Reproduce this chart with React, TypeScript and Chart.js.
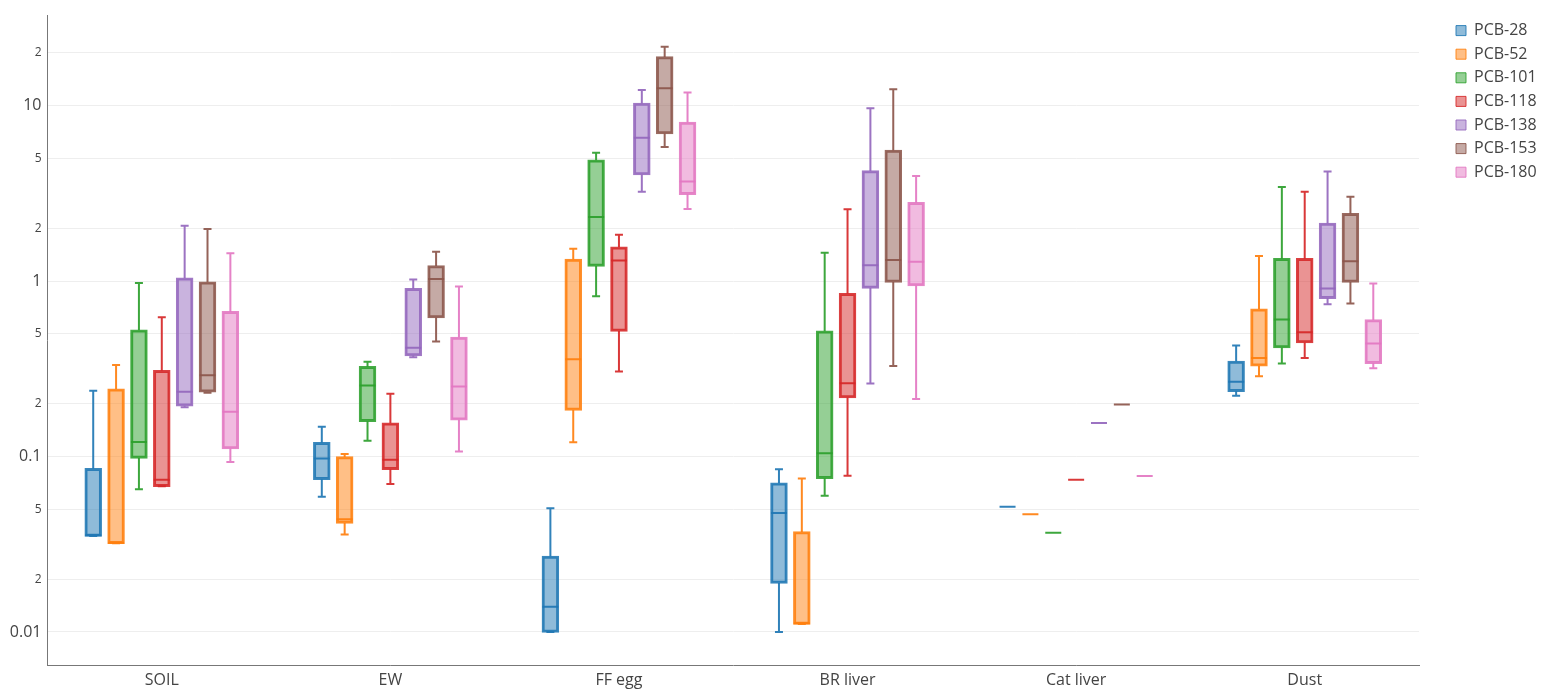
import React, { useEffect, useRef } from 'react';
import { Chart, registerables } from 'chart.js';

Chart.register(...registerables);

const FONT = "'Open Sans', 'DejaVu Sans', sans-serif";

const CATEGORIES = ['SOIL', 'EW', 'FF egg', 'BR liver', 'Cat liver', 'Dust'];
const SERIES_NAMES = ['PCB-28', 'PCB-52', 'PCB-101', 'PCB-118', 'PCB-138', 'PCB-153', 'PCB-180'];
const COLORS = ['#1f77b4', '#ff7f0e', '#2ca02c', '#d62728', '#9467bd', '#8c564b', '#e377c2'];

// each entry: [min, q1, median, q3, max] for SOIL, EW, FF egg, BR liver, Cat liver, Dust
const PCB_28 = [
  [0.0352, 0.0352, 0.0356, 0.0853, 0.237],
  [0.0589, 0.0742, 0.0973, 0.12, 0.148],
  [0.01, 0.01, 0.0139, 0.0269, 0.0507],
  [0.01, 0.019, 0.0477, 0.0705, 0.0847],
  [0.0518, 0.0518, 0.0518, 0.0518, 0.0518],
  [0.222, 0.236, 0.267, 0.348, 0.429],
];
const PCB_52 = [
  [0.032, 0.032, 0.0323, 0.242, 0.333],
  [0.0359, 0.0418, 0.0439, 0.0995, 0.1035],
  [0.1206, 0.184, 0.359, 1.33, 1.53],
  [0.0111, 0.0111, 0.0112, 0.0371, 0.075],
  [0.0469, 0.0469, 0.0469, 0.0469, 0.0469],
  [0.287, 0.329, 0.364, 0.692, 1.39],
];
const PCB_101 = [
  [0.065, 0.098, 0.121, 0.525, 0.975],
  [0.123, 0.159, 0.254, 0.325, 0.347],
  [0.82, 1.22, 2.32, 4.88, 5.39],
  [0.0598, 0.0753, 0.1045, 0.518, 1.45],
  [0.0368, 0.0368, 0.0368, 0.0368, 0.0368],
  [0.339, 0.419, 0.604, 1.34, 3.44],
];
const PCB_118 = [
  [0.0677, 0.0677, 0.0738, 0.308, 0.623],
  [0.0698, 0.0846, 0.096, 0.155, 0.228],
  [0.305, 0.52, 1.31, 1.56, 1.84],
  [0.0778, 0.217, 0.262, 0.848, 2.57],
  [0.0738, 0.0738, 0.0738, 0.0738, 0.0738],
  [0.365, 0.447, 0.512, 1.34, 3.23],
];
const PCB_138 = [
  [0.191, 0.195, 0.234, 1.04, 2.07],
  [0.368, 0.377, 0.417, 0.904, 1.02],
  [3.23, 4.06, 6.57, 10.3, 12.3],
  [0.261, 0.914, 1.23, 4.24, 9.66],
  [0.1555, 0.1555, 0.1555, 0.1555, 0.1555],
  [0.739, 0.8, 0.908, 2.13, 4.22],
];
const PCB_153 = [
  [0.231, 0.234, 0.291, 0.987, 1.98],
  [0.452, 0.62, 1.03, 1.22, 1.47],
  [5.81, 6.95, 12.56, 18.97, 21.7],
  [0.328, 0.989, 1.32, 5.56, 12.4],
  [0.198, 0.198, 0.198, 0.198, 0.198],
  [0.745, 0.99, 1.3, 2.42, 3.03],
];
const PCB_180 = [
  [0.093, 0.111, 0.18, 0.668, 1.44],
  [0.1067, 0.162, 0.251, 0.477, 0.931],
  [2.58, 3.13, 3.7, 8.03, 11.9],
  [0.213, 0.944, 1.29, 2.8, 3.97],
  [0.0775, 0.0775, 0.0775, 0.0775, 0.0775],
  [0.319, 0.34, 0.441, 0.6, 0.969],
];

const SERIES = [PCB_28, PCB_52, PCB_101, PCB_118, PCB_138, PCB_153, PCB_180];

const Y_TICKS = [0.01, 0.02, 0.05, 0.1, 0.2, 0.5, 1, 2, 5, 10, 20];
const Y_MIN = 0.00648;
const Y_MAX = 32.9;

const isMajor = (v: number) => {
  const l = Math.log10(v);
  return Math.abs(l - Math.round(l)) < 1e-9;
};
const tickLabel = (v: number) => {
  if (isMajor(v)) return String(v);
  return String(Math.round(v / Math.pow(10, Math.floor(Math.log10(v) + 1e-9))));
};

const rgba = (hex: string, a: number) => {
  const n = parseInt(hex.slice(1), 16);
  return `rgba(${(n >> 16) & 255}, ${(n >> 8) & 255}, ${n & 255}, ${a})`;
};

const boxWhiskerPlugin = {
  id: 'boxWhiskers',
  afterDatasetsDraw(chart: any) {
    const ctx = chart.ctx;
    const yScale = chart.scales.y;
    const p = (v: number) => yScale.getPixelForValue(v);
    chart.data.datasets.forEach((ds: any, i: number) => {
      const meta = chart.getDatasetMeta(i);
      if (!chart.isDatasetVisible(i)) return;
      meta.data.forEach((el: any, j: number) => {
        const s = ds.stats[j];
        if (!s) return;
        const { x, width } = el.getProps(['x', 'width'], true);
        const [mn, q1, md, q3, mx] = s;
        const half = width / 2;
        const cap = width / 4;
        ctx.save();
        ctx.strokeStyle = ds.lineColor;
        ctx.lineWidth = 2;
        ctx.beginPath();
        ctx.moveTo(x - half, p(md));
        ctx.lineTo(x + half, p(md));
        ctx.moveTo(x, p(q3));
        ctx.lineTo(x, p(mx));
        ctx.moveTo(x - cap, p(mx));
        ctx.lineTo(x + cap, p(mx));
        ctx.moveTo(x, p(q1));
        ctx.lineTo(x, p(mn));
        ctx.moveTo(x - cap, p(mn));
        ctx.lineTo(x + cap, p(mn));
        ctx.stroke();
        ctx.restore();
      });
    });
  },
};

const LEGEND_BOX_X = 1456;
const LEGEND_PADDING = 7.6;

const legendPlacePlugin = {
  id: 'legendPlace',
  afterLayout(chart: any) {
    const lg = chart.legend;
    if (!lg) return;
    const w = lg.width;
    lg.left = LEGEND_BOX_X - LEGEND_PADDING;
    lg.right = lg.left + w;
  },
};

export default function App() {
  const canvasRef = useRef<HTMLCanvasElement | null>(null);

  useEffect(() => {
    if (!canvasRef.current) return;
    const chart = new Chart(canvasRef.current, {
      type: 'bar',
      data: {
        labels: CATEGORIES,
        datasets: SERIES.map((s, i) => ({
          label: SERIES_NAMES[i],
          data: s.map((b) => [b[1], b[3]]),
          stats: s,
          lineColor: rgba(COLORS[i], 0.92),
          backgroundColor: rgba(COLORS[i], 0.5),
          borderColor: rgba(COLORS[i], 0.88),
          borderWidth: 1.5,
          borderSkipped: false,
          inflateAmount: 0.75,
          categoryPercentage: 0.7,
          barPercentage: 0.7,
        })) as any,
      },
      options: {
        responsive: true,
        maintainAspectRatio: false,
        animation: false,
        layout: { padding: { top: 15, right: 33, bottom: 0, left: 0 } },
        plugins: {
          tooltip: { enabled: false },
          legend: {
            position: 'right',
            align: 'start',
            maxWidth: 90,
            labels: {
              boxWidth: 10,
              boxHeight: 10,
              padding: LEGEND_PADDING,
              color: '#444',
              font: { family: FONT, size: 16 },
              generateLabels: (chart: any) =>
                Chart.defaults.plugins.legend.labels
                  .generateLabels(chart)
                  .map((l: any) => ({ ...l, lineWidth: 1 })),
            },
          },
        },
        scales: {
          x: {
            grid: { display: false, drawTicks: false },
            border: { display: true, color: '#777', width: 1 },
            ticks: { padding: 6, color: '#444', font: { family: FONT, size: 16 } },
            afterFit: (s: any) => {
              s.height = 24;
            },
          },
          y: {
            type: 'logarithmic',
            min: Y_MIN,
            max: Y_MAX,
            afterBuildTicks: (s: any) => {
              s.ticks = Y_TICKS.map((v) => ({ value: v }));
            },
            afterFit: (s: any) => {
              s.width = 47.5;
            },
            grid: { color: '#eeeeee', lineWidth: 1, drawTicks: false },
            border: { display: true, color: '#777', width: 1 },
            ticks: {
              padding: 6,
              color: '#444',
              autoSkip: false,
              font: (c: any) => ({
                family: FONT,
                size: c.tick && isMajor(c.tick.value) ? 16 : 12,
              }),
              callback: (v: any) => tickLabel(Number(v)),
            },
          },
        },
      } as any,
      plugins: [boxWhiskerPlugin, legendPlacePlugin],
    });
    return () => chart.destroy();
  }, []);

  return (
    <div style={{ position: 'fixed', left: 0, top: 0, width: 1542, height: 689, background: '#fff' }}>
      <canvas ref={canvasRef} />
    </div>
  );
}
